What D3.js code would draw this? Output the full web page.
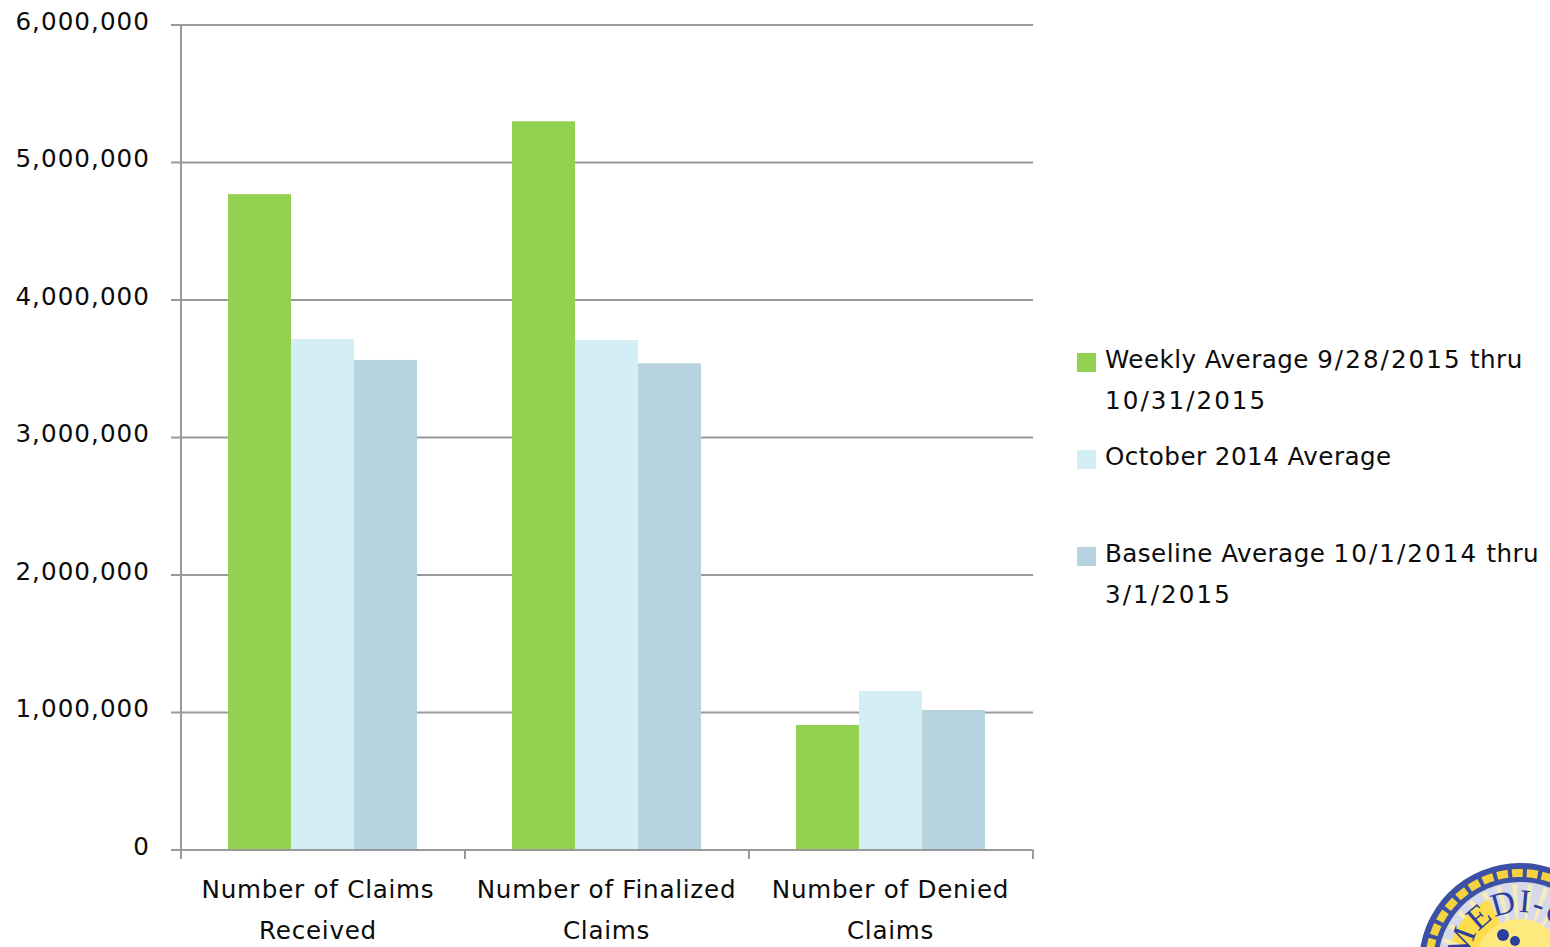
<!DOCTYPE html>
<html><head><meta charset="utf-8">
<script src="https://cdn.jsdelivr.net/npm/d3@7"></script>
<style>
html,body{margin:0;padding:0;background:#fff;overflow:hidden}
svg{display:block}
text{font-family:"DejaVu Sans",sans-serif;fill:#0c0c0c;font-size:24.6px;letter-spacing:0.5px}
</style></head><body><svg id="c" width="1550" height="947"></svg>
<script>
const categories=[["Number of Claims","Received"],["Number of Finalized","Claims"],["Number of Denied","Claims"]];
const seriesNames=["weekly","october","baseline"];
const weekly=[4770000,5300000,909000];
const october=[3716000,3709000,1156000];
const baseline=[3564000,3540000,1018000];
const colors=["#92d250","#d4eef5","#b7d3df"];
const yTicks=[0,1000000,2000000,3000000,4000000,5000000,6000000];
const legendLabels=[["Weekly Average 9/28/2015 thru","10/31/2015"],["October 2014 Average"],["Baseline Average 10/1/2014 thru","3/1/2015"]];
const legendY=[359,456,553];
const values=[weekly,october,baseline];
const svg=d3.select("#c");
const y=d3.scaleLinear().domain([0,6000000]).range([850,25]);
const x0=d3.scaleBand().domain(d3.range(categories.length)).range([181,1033]);
const x1=d3.scaleBand().domain(seriesNames).range([47,47+189]);
const axisCol="#999";
svg.append("g").selectAll("line").data(yTicks).join("line")
 .attr("x1",171).attr("x2",1033).attr("y1",d=>y(d)).attr("y2",d=>y(d))
 .attr("stroke",axisCol).attr("stroke-width",2);
svg.append("line").attr("x1",181).attr("x2",181).attr("y1",25).attr("y2",859).attr("stroke",axisCol).attr("stroke-width",2);
[0,1,2,3].forEach(i=>{const px=i<3?x0(i):x0(2)+x0.bandwidth();
 svg.append("line").attr("x1",px).attr("x2",px).attr("y1",850).attr("y2",859).attr("stroke",axisCol).attr("stroke-width",2);});
seriesNames.forEach((s,si)=>{
 svg.append("g").selectAll("rect").data(values[si]).join("rect")
  .attr("x",(d,i)=>x0(i)+x1(s)).attr("width",x1.bandwidth())
  .attr("y",d=>y(d)).attr("height",d=>y(0)-y(d)).attr("fill",colors[si]);
});
svg.append("line").attr("x1",171).attr("x2",1033).attr("y1",y(0)).attr("y2",y(0)).attr("stroke",axisCol).attr("stroke-width",2);
svg.append("g").selectAll("text").data(yTicks).join("text")
 .attr("x",150).attr("y",d=>y(d)+4.5).attr("text-anchor","end").style("letter-spacing","1.05px").text(d=>d3.format(",")(d));
categories.forEach((c,i)=>{
 const cx=[318,606.5,890.5][i];
 c.forEach((t,j)=>svg.append("text").attr("x",cx).attr("y",898+j*41).attr("text-anchor","middle").style("letter-spacing","0.75px").text(t));
});
legendLabels.forEach((ls,i)=>{
 svg.append("rect").attr("x",1077).attr("y",legendY[i]-6).attr("width",19).attr("height",19).attr("fill",colors[i]);
 ls.forEach((t,j)=>{
  const tx=svg.append("text").attr("x",1105).attr("y",legendY[i]+9+j*41);
  t.split(/(\d+\/[\d\/]+)/).forEach(part=>{
   if(!part)return;
   tx.append("tspan").style("letter-spacing",part.includes("/")?"2.05px":"0.45px").text(part);
  });
 });
});
// seal
const cx=1520,cy=964,g=svg.append("g");
const rays=d3.range(-1.5,1.6,0.2);
const arcGen=d3.arc();
g.append("circle").attr("cx",cx).attr("cy",cy).attr("r",101).attr("fill","#3c50a5");
g.append("circle").attr("cx",cx).attr("cy",cy).attr("r",91).attr("fill","none").attr("stroke","#f5d33f").attr("stroke-width",8).attr("stroke-dasharray","11 4");
g.append("circle").attr("cx",cx).attr("cy",cy).attr("r",82).attr("fill","#d6d9ea");
rays.forEach(a=>g.append("path").attr("transform",`translate(${cx},${cy})`)
 .attr("d",arcGen({innerRadius:0,outerRadius:80,startAngle:a,endAngle:a+0.06})).attr("fill","#f6ecb8"));
g.append("path").attr("transform",`translate(${cx},${cy})`)
 .attr("d",arcGen({innerRadius:20,outerRadius:72,startAngle:-1.25,endAngle:-0.45})).attr("fill","#fddc4e");
g.append("circle").attr("cx",cx).attr("cy",cy).attr("r",45).attr("fill","#fde97e");
g.append("path").attr("id","sealArc").attr("fill","none")
 .attr("d",`M${cx+52*Math.sin(-1.5)},${cy-52*Math.cos(-1.5)}A52,52 0 1 1 ${cx+52*Math.sin(3.6)},${cy-52*Math.cos(3.6)}`);
g.append("text").style("font-family","'Liberation Serif',serif").style("font-size","33px").style("letter-spacing","1px").style("fill","#2d3f9a")
 .append("textPath").attr("href","#sealArc").text("MEDI-CAL");
g.append("circle").attr("cx",1503).attr("cy",935).attr("r",6).attr("fill","#2d3f9a");
g.append("circle").attr("cx",1515).attr("cy",941).attr("r",5).attr("fill","#2d3f9a");
</script></body></html>
